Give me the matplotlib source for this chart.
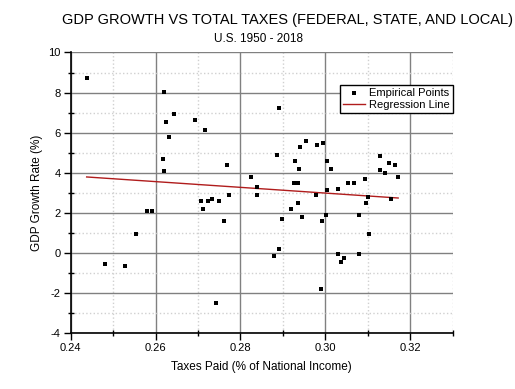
import numpy as np
import matplotlib.pyplot as plt
from matplotlib.ticker import MultipleLocator

plt.rcParams['font.family'] = ['Liberation Sans', 'DejaVu Sans']
plt.rcParams['axes.unicode_minus'] = False

# Taxes paid (share of national income) and GDP growth (%), 1950-2018
taxes = [0.2438, 0.2481, 0.2528, 0.2553, 0.2581, 0.2591, 0.2618, 0.2620, 0.2620, 0.2625,
         0.2631, 0.2644, 0.2693, 0.2707, 0.2712, 0.2716, 0.2724, 0.2732, 0.2742, 0.2749,
         0.2762, 0.2768, 0.2773, 0.2825, 0.2839, 0.2840, 0.2879, 0.2885, 0.2891, 0.2891,
         0.2897, 0.2920, 0.2927, 0.2928, 0.2935, 0.2935, 0.2938, 0.2939, 0.2945, 0.2953,
         0.2978, 0.2979, 0.2989, 0.2992, 0.2994, 0.3001, 0.3003, 0.3004, 0.3013, 0.3029,
         0.3030, 0.3036, 0.3044, 0.3052, 0.3066, 0.3079, 0.3080, 0.3094, 0.3096, 0.3101,
         0.3102, 0.3129, 0.3129, 0.3140, 0.3150, 0.3154, 0.3164, 0.3171]
growth = [8.74, -0.56, -0.68, 0.96, 2.08, 2.08, 4.69, 4.09, 8.04, 6.51,
          5.78, 6.91, 6.63, 2.58, 2.18, 6.13, 2.58, 2.68, -2.51, 2.58,
          1.58, 4.38, 2.88, 3.79, 3.29, 2.88, -0.16, 4.88, 7.23, 0.21,
          1.69, 2.18, 3.49, 4.59, 3.49, 2.48, 4.19, 5.28, 1.79, 5.59,
          2.89, 5.38, -1.78, 1.59, 5.49, 1.89, 4.59, 3.13, 4.19, 3.21,
          -0.06, -0.46, -0.26, 3.49, 3.49, -0.06, 1.88, 3.69, 2.48, 2.78,
          0.96, 4.81, 4.11, 3.99, 4.48, 2.68, 4.38, 3.79]

taxes = np.array(taxes)
growth = np.array(growth)

# least squares fit
slope, intercept = np.polyfit(taxes, growth, 1)
fit_x = np.array([taxes.min(), taxes.max()])
fit_y = slope * fit_x + intercept

fig = plt.figure(figsize=(5.15, 3.89), dpi=100)
ax = fig.add_axes([0.1369, 0.1440, 0.7427, 0.7211])

ax.scatter(taxes, growth, marker='s', s=11, color='black', linewidths=0,
           label='Empirical Points', zorder=3)
ax.plot(fit_x, fit_y, color='#b01c1c', lw=1, label='Regression Line', zorder=2)

ax.set_xlim(0.24, 0.33)
ax.set_ylim(-4, 10)
ax.xaxis.set_major_locator(MultipleLocator(0.02))
ax.xaxis.set_minor_locator(MultipleLocator(0.01))
ax.yaxis.set_major_locator(MultipleLocator(2))
ax.yaxis.set_minor_locator(MultipleLocator(1))
ax.set_xticklabels([f'{v:.2f}' for v in ax.get_xticks()])

ax.grid(which='major', color='#808080', lw=1, ls='-')
ax.grid(which='minor', color='#d0d0d0', lw=1, ls=':')
ax.set_axisbelow(True)

ax.spines['top'].set_visible(False)
ax.spines['right'].set_visible(False)
ax.spines['left'].set_linewidth(1.2)
ax.spines['bottom'].set_linewidth(1.2)
ax.tick_params(which='major', direction='out', length=5, width=1, labelsize=8, pad=2)
ax.tick_params(which='minor', direction='inout', length=5, width=1)

ax.set_xlabel('Taxes Paid (% of National Income)', fontsize=8.5, labelpad=6)
ax.set_ylabel('GDP Growth Rate (%)', fontsize=8.5, labelpad=4)

fig.text(287 / 515, 1 - 20 / 389, 'GDP GROWTH VS TOTAL TAXES (FEDERAL, STATE, AND LOCAL)',
         ha='center', va='center', fontsize=10.5)
fig.text(258 / 515, 1 - 39 / 389, 'U.S. 1950 - 2018', ha='center', va='center', fontsize=8.5)

leg = ax.legend(loc='upper right', bbox_to_anchor=(1.0, 0.884), fontsize=8, fancybox=False,
                framealpha=1, edgecolor='black', borderpad=0.25, labelspacing=0.2,
                handlelength=2.0, handletextpad=0.4, borderaxespad=0)
leg.get_frame().set_linewidth(1)

fig.savefig('out.png', dpi=100)
